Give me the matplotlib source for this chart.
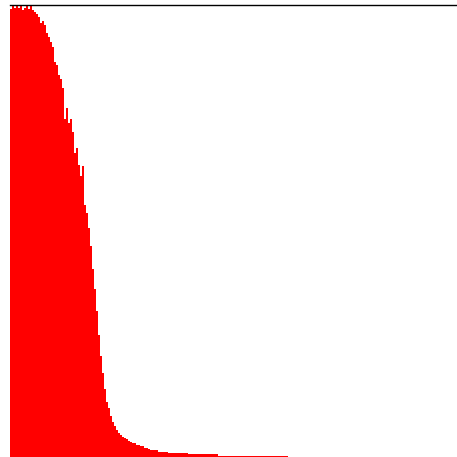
import matplotlib
matplotlib.use("Agg")
import matplotlib.pyplot as plt
import numpy as np

# counts per bin (bins are equal width)
counts = [331, 333, 332, 334, 332, 333, 330, 332, 334, 331, 333, 330,
          329, 327, 325, 321, 322,
          319, 313, 310, 307, 303, 292, 290, 282, 279, 273, 250, 258, 247,
          250, 240, 225, 228, 216, 208, 215, 186, 180, 169, 156, 139, 124,
          108, 90, 75, 62, 50, 41, 36, 30, 26, 23, 20, 18, 16, 15, 14, 13,
          12, 11, 10, 10, 9, 9, 8, 8, 7, 7, 6,
          5, 5, 5, 5,
          4, 4, 4, 4, 4,
          3, 3, 3, 3, 3, 3, 3, 3, 3, 3,
          2, 2, 2, 2, 2, 2, 2, 2, 2, 2, 2, 2, 2, 2, 2] + [1] * 35
x_max = 223
y_max = 334

edges = np.arange(len(counts) + 1)

fig = plt.figure(figsize=(4.57, 4.57), dpi=100)
ax = fig.add_axes([10 / 457, 0, 446 / 457, 452 / 457])
ax.bar(edges[:-1], counts, width=1, align='edge', color='red', linewidth=0)
ax.set_xlim(0, x_max)
ax.set_ylim(0, y_max)
ax.set_xticks([])
ax.set_yticks([])
for side in ['left', 'right', 'bottom']:
    ax.spines[side].set_visible(False)
ax.spines['top'].set_color('black')
ax.spines['top'].set_linewidth(1)
fig.savefig('out.png', dpi=100)
